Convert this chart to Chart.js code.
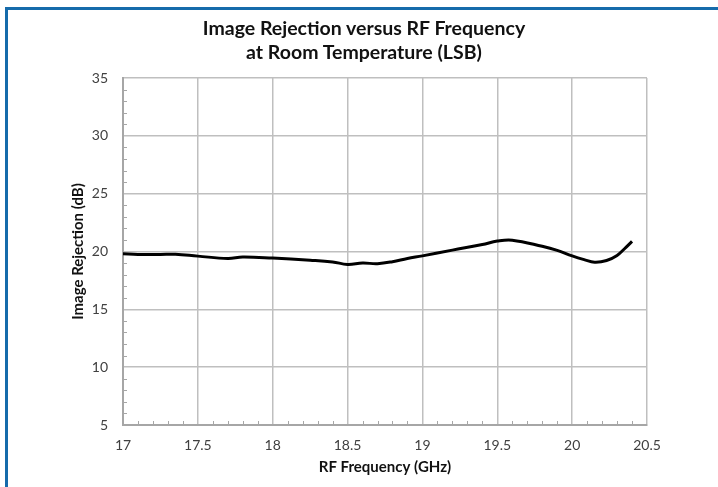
<!DOCTYPE html>
<html lang="en">
<head>
  <meta charset="UTF-8">
  <title>Image Rejection versus RF Frequency</title>
  <script src="https://cdn.jsdelivr.net/npm/chart.js"></script>
  <style>
    html, body { margin: 0; padding: 0; background: #fff; }
    body { width: 718px; height: 487px; position: relative; overflow: hidden; font-family: Lato, sans-serif; }
    /* blue frame on top and left, as in the datasheet page */
    #frame {
      position: absolute; left: 5px; top: 7px; width: 760px; height: 520px;
      border-top: 3px solid #166bab; border-left: 3px solid #166bab;
    }
    #chartBox { position: absolute; left: 0; top: 0; width: 718px; height: 487px; }
    #chartTitle {
      position: absolute; left: 0; top: 16px; width: 728px;
      text-align: center; font-weight: bold; font-size: 19.5px; line-height: 24px; color: #111;
    }
  </style>
</head>
<body>
  <div id="frame"></div>
  <div id="chartBox"><canvas id="irChart" width="718" height="487"></canvas></div>
  <div id="chartTitle"></div>

  <script>
    // RF frequency (GHz) and image rejection (dB)
    const freqGHz = [17.0, 17.1, 17.25, 17.35, 17.5, 17.7, 17.8, 18.0, 18.25, 18.4, 18.5,
                     18.6, 18.7, 18.8, 18.9, 19.0, 19.2, 19.4, 19.5, 19.6, 19.8, 19.9,
                     20.0, 20.08, 20.15, 20.23, 20.3, 20.35, 20.4];
    const rejectionDb = [19.80, 19.75, 19.75, 19.76, 19.60, 19.40, 19.52, 19.43, 19.25, 19.10, 18.88,
                         19.00, 18.95, 19.12, 19.40, 19.62, 20.12, 20.60, 20.90, 20.98, 20.45, 20.10,
                         19.62, 19.30, 19.08, 19.22, 19.66, 20.24, 20.87];

    const xTicks = [17, 17.5, 18, 18.5, 19, 19.5, 20, 20.5];
    const yTicks = [5, 10, 15, 20, 25, 30, 35];
    const titleLines = ['Image Rejection versus RF Frequency', 'at Room Temperature (LSB)'];

    document.getElementById('chartTitle').innerHTML = titleLines.join('<br>');

    const points = freqGHz.map((f, i) => ({ x: f, y: rejectionDb[i] }));

    // small inward minor ticks (0.1 GHz on x, 1 dB on y)
    const minorTicks = {
      id: 'minorTicks',
      beforeDatasetsDraw(chart) {
        const { ctx, chartArea, scales: { x, y } } = chart;
        ctx.save();
        ctx.strokeStyle = '#a6a6a6';
        ctx.lineWidth = 1;
        ctx.beginPath();
        for (let k = 170; k <= 205; k++) {
          if (k % 5 === 0) continue;
          const px = Math.round(x.getPixelForValue(k / 10)) + 0.5;
          ctx.moveTo(px, chartArea.bottom);
          ctx.lineTo(px, chartArea.bottom - 4);
        }
        for (let v = 5; v <= 35; v++) {
          if (v % 5 === 0) continue;
          const py = Math.round(y.getPixelForValue(v)) + 0.5;
          ctx.moveTo(chartArea.left, py);
          ctx.lineTo(chartArea.left + 4, py);
        }
        ctx.stroke();
        ctx.restore();
      }
    };

    const ctx = document.getElementById('irChart').getContext('2d');
    new Chart(ctx, {
      type: 'line',
      data: {
        datasets: [{
          data: points,
          borderColor: '#000',
          borderWidth: 3,
          pointRadius: 0,
          fill: false,
          tension: 0.4
        }]
      },
      options: {
        responsive: false,
        animation: false,
        layout: { padding: { left: 0, right: 71, top: 78, bottom: 0 } },
        plugins: {
          legend: { display: false },
          tooltip: { enabled: false },
          title: { display: false }
        },
        scales: {
          x: {
            type: 'linear',
            min: 17, max: 20.5,
            afterBuildTicks: (s) => { s.ticks = xTicks.map(v => ({ value: v })); },
            afterFit: (s) => { s.height = 62; },
            grid: { color: '#bfbfbf', lineWidth: 1.5, drawTicks: false },
            border: { color: '#a6a6a6', width: 2 },
            ticks: {
              color: '#404040', padding: 12, font: { family: 'Lato', size: 14 },
              callback: (v) => String(v)
            },
            title: {
              display: true,
              text: 'RF Frequency (GHz)',
              color: '#111',
              font: { family: 'Lato', size: 15, weight: 'bold', lineHeight: 1.2 },
              padding: { top: 0, bottom: 11 }
            }
          },
          y: {
            min: 5, max: 35,
            afterBuildTicks: (s) => { s.ticks = yTicks.map(v => ({ value: v })); },
            afterFit: (s) => { s.width = 123; },
            grid: { color: '#bfbfbf', lineWidth: 1.5, drawTicks: false },
            border: { color: '#a6a6a6', width: 2 },
            ticks: {
              color: '#404040', padding: 15, font: { family: 'Lato', size: 14 },
              callback: (v) => String(v)
            },
            title: {
              display: true,
              text: 'Image Rejection (dB)',
              color: '#111',
              font: { family: 'Lato', size: 15, weight: 'bold', lineHeight: 1.2 },
              padding: { top: 69, bottom: 0 }
            }
          }
        }
      },
      plugins: [minorTicks]
    });
  </script>
</body>
</html>
